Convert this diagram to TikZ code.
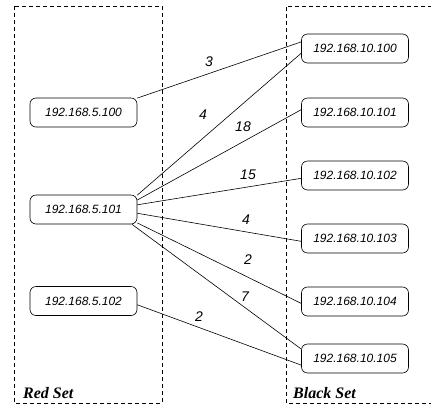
\documentclass[tikz,border=0pt]{standalone}
\usepackage{fontspec}
\setmainfont{Liberation Serif}
\newfontfamily\nodefont{Liberation Sans}
\begin{document}
\begin{tikzpicture}[x=1pt,y=-1pt,
  host/.style={draw, line width=0.6pt, rounded corners=6pt, minimum width=107pt, minimum height=29pt, inner sep=0pt, font=\nodefont\itshape\fontsize{12}{14}\selectfont},
  wlabel/.style={font=\nodefont\itshape\fontsize{14}{16}\selectfont, inner sep=0pt},
  setbox/.style={draw, line width=0.6pt, dash pattern=on 4pt off 3pt},
  setlabel/.style={font=\bfseries\itshape\fontsize{16}{18}\selectfont, anchor=base west, inner sep=0pt},
  link/.style={line width=0.6pt}]
\useasboundingbox (0,0) rectangle (431,408);
\draw[setbox] (14,6) rectangle (162,403);
\draw[setbox] (432,6) -- (286,6) -- (286,403) -- (432,403);
\node[setlabel] (rs) at (23,398) {Red Set};
\node[setlabel] (bs) at (293,398) {Black Set};
\node[host] (r0) at (83.5,112.5) {192.168.5.100};
\node[host] (r1) at (83.5,209.5) {192.168.5.101};
\node[host] (r2) at (83.5,301) {192.168.5.102};
\node[host] (b0) at (355,48.5) {192.168.10.100};
\node[host] (b1) at (355,112.5) {192.168.10.101};
\node[host] (b2) at (355,175.5) {192.168.10.102};
\node[host] (b3) at (355,238.5) {192.168.10.103};
\node[host] (b4) at (355,301.5) {192.168.10.104};
\node[host] (b5) at (355,358.5) {192.168.10.105};
\draw[link] (r0.15) -- (b0.173);
\draw[link] (r1.15) -- (b0.185);
\draw[link] (r1.10) -- (b1.177);
\draw[link] (r1.5) -- (b2.183);
\draw[link] (r1.-4) -- (b3.183);
\draw[link] (r1.-14) -- (b4.182);
\draw[link] (r1.-17) -- (b5.170);
\draw[link] (r2.-4) -- (b5.187);
\node[wlabel] (l0) at (209,62) {3};
\node[wlabel] (l1) at (203,115) {4};
\node[wlabel] (l2) at (243,127) {18};
\node[wlabel] (l3) at (248,175) {15};
\node[wlabel] (l4) at (246,220) {4};
\node[wlabel] (l5) at (248,260) {2};
\node[wlabel] (l6) at (245,297) {7};
\node[wlabel] (l7) at (199,317) {2};
\end{tikzpicture}
\end{document}
